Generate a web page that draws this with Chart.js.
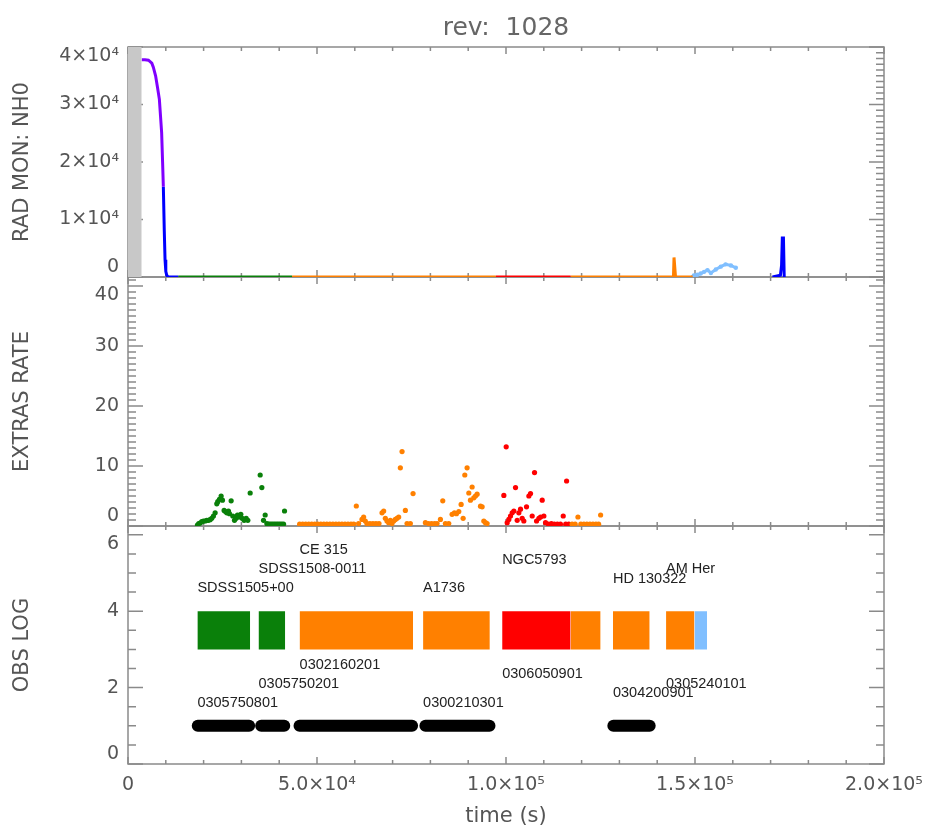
<!DOCTYPE html>
<html>
<head>
<meta charset="utf-8">
<script src="https://cdn.jsdelivr.net/npm/chart.js@4.4.0/dist/chart.umd.min.js"></script>
<style>
  html, body { margin: 0; padding: 0; background: #fff; }
  #wrap { width: 937px; height: 836px; }
</style>
</head>
<body>
<div id="wrap"><canvas id="chart" width="937" height="836"></canvas></div>
<script>
// tick labels
const timeTicks = [0, 5e4, 1e5, 1.5e5, 2e5];
const radTicks = [0, 1e4, 2e4, 3e4, 4e4];
const rateTicks = [0, 10, 20, 30, 40];
const logTicks = [0, 2, 4, 6];

// observation log
const obsNames = ['SDSS1505+00', 'SDSS1508-0011', 'CE 315', 'A1736', 'NGC5793', 'HD 130322', 'AM Her'];
const obsIds = ['0305750801', '0305750201', '0302160201', '0300210301', '0306050901', '0304200901', '0305240101'];
const obsStart = [18360, 34530, 45390, 78060, 98980, 128300, 142340];
const obsLevel = [0, 2, 4, 0, 3, 1, 2];

const blockStart = [18360, 34530, 45390, 78060, 98980, 117090, 128300, 142340, 149850];
const blockEnd = [32320, 41590, 75410, 95720, 117090, 125030, 138010, 149850, 153190];

const barStart = [18460, 35230, 45380, 78680, 128400];
const barEnd = [32050, 41330, 75150, 95630, 138010];

// RAD MON: NH0
const greyT = [0, 3630];
const greyV = [40000, 40000];
const radPurpleT = [3630, 4500, 5400, 6300, 6700, 7300, 7800, 8300, 8600, 8900, 9150, 9350];
const radPurpleV = [37800, 37800, 37700, 37200, 36500, 35000, 33000, 30900, 28000, 25100, 20000, 15700];
const radBlueT = [9350, 9600, 9800, 10000, 10250, 10600, 13300];
const radBlueV = [15700, 8000, 3000, 1000, 300, 0, 0];
const radGreenT = [13300, 43400];
const radGreenV = [0, 0];
const radOrangeT = [43400, 97300];
const radOrangeV = [0, 0];
const radRedT = [97300, 117090];
const radRedV = [0, 0];
const radOrange2T = [117090, 144300, 144450, 144700, 144850, 149400];
const radOrange2V = [0, 0, 3400, 3400, 0, 0];
const radLBlueT = [149400, 149700, 150600, 151500, 152400, 153300, 154200, 155500, 156800, 158100, 159500, 160800];
const radLBlueV = [0, 260, 400, 600, 900, 1200, 700, 1300, 1800, 2200, 2000, 1600];
const radBlue2T = [170500, 172600, 172900, 173100, 173400, 173600];
const radBlue2V = [0, 300, 2000, 6800, 6800, 0];

// EXTRAS RATE
const rateGreenT = [18370, 18720, 19070, 19520, 19960, 20400, 20840, 21280, 21720, 22160, 22600, 23050, 23490, 23750, 24190, 24640, 24990, 25430, 25780, 26140, 26580, 26840, 27290, 27730, 28170, 28610, 28960, 29400, 29850, 30200, 30730, 31260, 31700, 32320, 34970, 35410, 35850, 36290, 36730, 37170, 37610, 38050, 38490, 38930, 39370, 39810, 40250, 40690, 41150, 41410];
const rateGreenV = [0.17, 0.39, 0.5, 0.72, 0.83, 0.83, 0.94, 0.94, 1.05, 1.28, 1.67, 2.2, 3.7, 4.06, 4.45, 5.0, 4.3, 2.6, 2.4, 2.2, 2.5, 2.06, 4.2, 1.67, 0.94, 1.28, 1.83, 1.5, 1.94, 1.28, 0.94, 1.28, 0.94, 5.5, 8.5, 6.4, 0.94, 1.83, 0.39, 0.3, 0.3, 0.3, 0.3, 0.3, 0.3, 0.3, 0.3, 0.3, 0.3, 2.5];
const rateOrangeT = [45400, 46200, 47000, 47800, 48600, 49400, 50200, 51000, 51800, 52600, 53400, 54200, 55000, 55800, 56600, 57400, 58200, 59000, 59700, 60400, 61000, 61900, 62340, 62780, 63200, 64000, 64800, 65600, 66400, 67200, 67640, 68080, 68520, 68960, 69400, 69850, 70290, 70730, 71170, 71610, 72050, 72500, 73380, 73820, 74700, 75410,
  78680, 79500, 80300, 81100, 81770, 82650, 83270, 83970, 84860, 85740, 86360, 86890, 87510, 88130, 88660, 89100, 89710, 90160, 90600, 91040, 91480, 91920, 92360, 93250, 93690, 94130, 94570, 95010,
  117500, 118300, 119030, 119800, 120600, 121400, 122200, 123000, 123800, 124500, 125030];
const rateOrangeV = [0.3, 0.3, 0.3, 0.3, 0.3, 0.3, 0.3, 0.3, 0.3, 0.3, 0.3, 0.3, 0.3, 0.3, 0.3, 0.3, 0.3, 0.3, 0.3, 3.33, 0.4, 1.1, 1.5, 0.83, 0.4, 0.4, 0.4, 0.4, 0.4, 2.2, 2.5, 1.28, 0.83, 0.56, 0.94, 0.4, 0.83, 1.1, 1.28, 1.5, 9.7, 12.4, 2.6, 0.4, 0.4, 5.4,
  0.55, 0.4, 0.4, 0.4, 0.4, 1.1, 4.2, 0.4, 0.4, 1.94, 2.2, 2.06, 2.4, 3.6, 1.28, 8.5, 9.7, 5.5, 4.3, 6.5, 4.7, 5.0, 5.3, 3.3, 3.2, 0.83, 0.55, 0.4,
  0.3, 0.3, 1.5, 0.3, 0.3, 0.3, 0.3, 0.3, 0.3, 0.3, 1.83];
const rateRedT = [99430, 100050, 100310, 100750, 101190, 101640, 102080, 102520, 102960, 103400, 103840, 104280, 104720, 105430, 106050, 106490, 106930, 107550, 108080, 108700, 109140, 109580, 110020, 110460, 111200, 112000, 112800, 113600, 114400, 115140, 115800, 116030, 116600];
const rateRedV = [5.1, 13.2, 0.55, 1.1, 1.67, 2.2, 2.5, 6.4, 0.94, 2.2, 2.8, 1.28, 0.83, 3.2, 5.0, 5.4, 1.67, 8.9, 0.83, 1.28, 1.5, 4.3, 1.67, 0.55, 0.3, 0.4, 0.3, 0.3, 0.3, 1.67, 0.3, 7.5, 0.3];

const GREEN = '#0a800a';
const ORANGE = '#ff8000';
const RED = '#ff0000';
const LBLUE = '#80bfff';
const PURPLE = '#8000ff';
const BLUE = '#0000ff';
const blockColor = [GREEN, GREEN, ORANGE, ORANGE, RED, ORANGE, ORANGE, ORANGE, LBLUE];

const FONT = "'DejaVu Sans', sans-serif";
const TEXT = '#555';
const FRAME = '#8a8a8a';

const SUP = { '0': '⁰', '1': '¹', '2': '²', '3': '³', '4': '⁴', '5': '⁵', '6': '⁶', '7': '⁷', '8': '⁸', '9': '⁹' };

function pts(t, v) {
  return t.map((x, i) => ({ x: x, y: v[i] }));
}

function sci(v, digits) {
  if (v === 0) return '0';
  const e = Math.floor(Math.log10(v) + 1e-9);
  const m = v / Math.pow(10, e);
  return m.toFixed(digits) + '×10' + String(e).split('').map(c => SUP[c]).join('');
}

function line(t, v, color, axis, width) {
  return {
    data: pts(t, v), yAxisID: axis, borderColor: color, borderWidth: width || 3,
    pointRadius: 0, tension: 0, fill: false
  };
}

function dots(t, v, color) {
  return {
    data: pts(t, v), yAxisID: 'yMid', showLine: false,
    pointRadius: 2.6, pointBackgroundColor: color, pointBorderWidth: 0
  };
}

const datasets = [];

// grey band
datasets.push({
  data: pts(greyT, greyV), yAxisID: 'yTop', borderWidth: 0, pointRadius: 0,
  backgroundColor: '#c8c8c8', fill: 'origin'
});
datasets.push(line(radPurpleT, radPurpleV, PURPLE, 'yTop'));
datasets.push(line(radBlueT, radBlueV, BLUE, 'yTop'));
datasets.push(line(radGreenT, radGreenV, GREEN, 'yTop'));
datasets.push(line(radOrangeT, radOrangeV, ORANGE, 'yTop'));
datasets.push(line(radRedT, radRedV, RED, 'yTop'));
datasets.push(line(radOrange2T, radOrange2V, ORANGE, 'yTop'));
const lblue = line(radLBlueT, radLBlueV, LBLUE, 'yTop');
lblue.pointRadius = 2.2;
lblue.pointBackgroundColor = LBLUE;
lblue.pointBorderWidth = 0;
datasets.push(lblue);
datasets.push(line(radBlue2T, radBlue2V, BLUE, 'yTop'));

datasets.push(dots(rateGreenT, rateGreenV, GREEN));
datasets.push(dots(rateOrangeT, rateOrangeV, ORANGE));
datasets.push(dots(rateRedT, rateRedV, RED));

// obs log blocks
blockStart.forEach((s, i) => {
  datasets.push({
    data: [{ x: s, y: 4 }, { x: blockEnd[i], y: 4 }], yAxisID: 'yBot',
    borderWidth: 0, pointRadius: 0, backgroundColor: blockColor[i], fill: { value: 3 }
  });
});
barStart.forEach((s, i) => {
  datasets.push({
    data: [{ x: s, y: 1 }, { x: barEnd[i], y: 1 }], yAxisID: 'yBot',
    borderColor: '#000', borderWidth: 12, borderCapStyle: 'round', pointRadius: 0, fill: false
  });
});

// panels: inward ticks on all four sides, IDL style
const panels = [
  { id: 'yTop', minor: 1000, major: 1e4 },
  { id: 'yMid', minor: 1, major: 10 },
  { id: 'yBot', minor: 0.5, major: 2 }
];

const framePlugin = {
  id: 'idlFrame',
  beforeDraw(chart) {
    // keep the end labels of each panel inside it
    panels.forEach(p => {
      const items = chart.scales[p.id].getLabelItems();
      if (!items.length) return;
      items[0].options.textBaseline = 'bottom';
      items[items.length - 1].options.textBaseline = 'top';
    });
  },
  beforeDatasetsDraw(chart) {
    const { ctx, chartArea } = chart;
    const xs = chart.scales.x;
    ctx.save();
    ctx.strokeStyle = FRAME;
    ctx.lineWidth = 1.5;
    panels.forEach(p => {
      const s = chart.scales[p.id];
      ctx.strokeRect(chartArea.left, s.top, chartArea.right - chartArea.left, s.bottom - s.top);
      ctx.beginPath();
      for (let k = 0; k * p.minor <= s.max + 1e-9; k++) {
        const v = k * p.minor;
        const y = s.getPixelForValue(v);
        const len = Math.abs(v / p.major - Math.round(v / p.major)) < 1e-6 ? 15 : 8;
        ctx.moveTo(chartArea.left, y); ctx.lineTo(chartArea.left + len, y);
        ctx.moveTo(chartArea.right, y); ctx.lineTo(chartArea.right - len, y);
      }
      for (let k = 0; k <= 20; k++) {
        const x = xs.getPixelForValue(k * 1e4);
        const len = k % 5 === 0 ? 7 : 4;
        ctx.moveTo(x, s.bottom); ctx.lineTo(x, s.bottom - len);
        ctx.moveTo(x, s.top); ctx.lineTo(x, s.top + len);
      }
      ctx.stroke();
    });
    ctx.restore();
  }
};

const labelPlugin = {
  id: 'obsLabels',
  afterDatasetsDraw(chart) {
    const { ctx } = chart;
    const xs = chart.scales.x;
    const ys = chart.scales.yBot;
    ctx.save();
    ctx.fillStyle = '#222';
    ctx.font = "14.5px 'Liberation Sans', sans-serif";
    ctx.textAlign = 'left';
    ctx.textBaseline = 'middle';
    obsNames.forEach((name, i) => {
      const x = xs.getPixelForValue(obsStart[i]);
      ctx.fillText(name, x, ys.getPixelForValue(4.6 + 0.25 * obsLevel[i]));
      ctx.fillText(obsIds[i], x, ys.getPixelForValue(1.6 + 0.25 * obsLevel[i]));
    });
    ctx.restore();
  }
};

function yAxis(title, min, max, weight, ticks, fmt) {
  return {
    type: 'linear', position: 'left', stack: 'panels', stackWeight: weight,
    min: min, max: max,
    grid: { display: false, drawTicks: false }, border: { display: false },
    afterBuildTicks: a => { a.ticks = ticks.map(v => ({ value: v })); },
    afterFit: a => { a.width = 128; },
    ticks: { callback: fmt, color: TEXT, font: { family: FONT, size: 19 }, padding: 9, autoSkip: false },
    title: { display: true, text: title, color: TEXT, font: { family: FONT, size: 21 }, padding: { top: 10, bottom: 0 } }
  };
}

new Chart(document.getElementById('chart').getContext('2d'), {
  type: 'line',
  data: { datasets: datasets },
  options: {
    responsive: false,
    animation: false,
    events: [],
    layout: { padding: { left: 0, right: 53, top: 0, bottom: 0 } },
    plugins: {
      legend: { display: false },
      tooltip: { enabled: false },
      title: {
        display: true, fullSize: false, text: 'rev:  1028', color: '#666',
        font: { family: FONT, size: 25, weight: 'normal' }, padding: { top: 13, bottom: 4 }
      }
    },
    scales: {
      x: {
        type: 'linear', min: 0, max: 2e5,
        grid: { display: false, drawTicks: false }, border: { display: false },
        afterBuildTicks: a => { a.ticks = timeTicks.map(v => ({ value: v })); },
        afterFit: a => { a.height = 72; },
        ticks: { callback: v => sci(v, 1), color: TEXT, font: { family: FONT, size: 19 }, padding: 10, maxRotation: 0, autoSkip: false },
        title: { display: true, text: 'time (s)', color: TEXT, font: { family: FONT, size: 21 }, padding: { top: 0, bottom: 7 } }
      },
      // stacked panels are placed bottom-up in definition order
      yBot: yAxis('OBS LOG', 0, 6.23, 238, logTicks, v => String(v)),
      yMid: yAxis('EXTRAS RATE', 0, 41.5, 249, rateTicks, v => String(v)),
      yTop: yAxis('RAD MON: NH0', 0, 4e4, 230, radTicks, v => sci(v, 0))
    }
  },
  plugins: [framePlugin, labelPlugin]
});
</script>
</body>
</html>
